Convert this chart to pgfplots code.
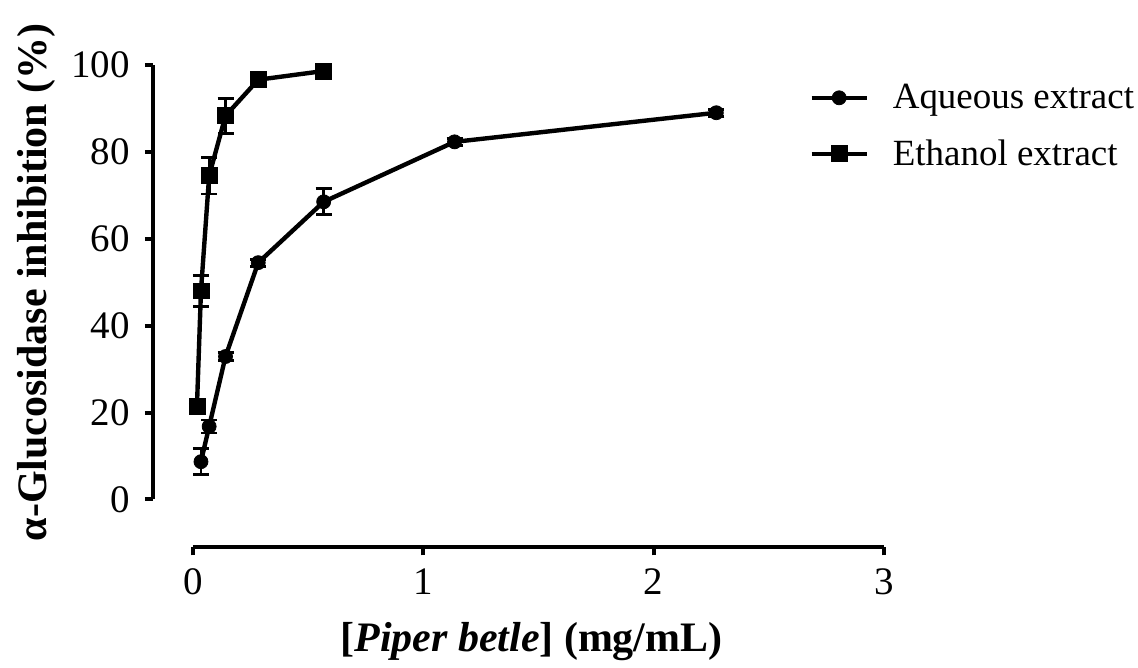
\documentclass[border=0pt]{standalone}
\usepackage{fontspec}
\setmainfont{Liberation Serif}
\usepackage{pgfplots}
\pgfplotsset{compat=1.18}
\usepackage{pgfplotstable}

% x = concentration (mg/mL), y = inhibition (%), e = error
\pgfplotstableread{
x      y     e
0.0355 8.7   3.0
0.071  16.8  1.5
0.142  32.9  1.0
0.284  54.5  0.8
0.568  68.5  3.0
1.136  82.3  0.8
2.272  89.0  0.8
}\aqueous
\pgfplotstableread{
x      y     e
0.018  21.4  0.5
0.0355 48.0  3.6
0.071  74.5  4.2
0.142  88.3  4.0
0.284  96.6  1.0
0.568  98.6  0.5
}\ethanol

\begin{document}
\begin{tikzpicture}
\path (0pt,0pt) rectangle (569pt,-332pt);

\begin{axis}[
  at={(76.5pt,-250pt)}, anchor=south west,
  scale only axis, width=366pt, height=217.5pt,
  xmin=-0.1734, xmax=3, ymin=0, ymax=100,
  axis x line=none, axis y line*=left,
  ytick={0,20,...,100},
  tick align=outside, major tick length=4pt,
  every tick/.style={line width=2pt, black},
  y axis line style={line width=2pt},
  /pgf/number format/assume math mode=true,
  tick label style={font=\fontsize{19.5}{19.5}\selectfont},
  yticklabel style={xshift=-4pt},
  every axis y label/.style={at={(axis description cs:-0.1448,0.5)}, rotate=90, anchor=base},
  ylabel={\fontsize{21}{21}\selectfont\bfseries α-Glucosidase inhibition (\%)},
  clip=false,
  legend style={draw=none, fill=none, at={(axis description cs:0.8975,0.966)},
    anchor=north west, font=\fontsize{18.5}{18.5}\selectfont,
    row sep=10pt, column sep=10pt, inner sep=0pt},
  legend cell align=left,
  legend image code/.code={\draw[#1, mark repeat=2, mark phase=2]
    plot coordinates {(0pt,0pt)(13.75pt,0pt)(27.5pt,0pt)};},
  error bars/error bar style={line width=1.4pt, black},
  error bars/error mark options={line width=1.4pt, mark size=4pt, black, rotate=90},
]
\addplot[black, line width=2.2pt, mark=*, mark size=3.5pt, mark options={line width=0.4pt},
  error bars/.cd, y dir=both, y explicit]
  table[x=x, y=y, y error=e] {\aqueous};
\addlegendentry{Aqueous extract}
\addplot[black, line width=2.2pt, mark=square*, mark size=4pt, mark options={line width=0.4pt},
  error bars/.cd, y dir=both, y explicit]
  table[x=x, y=y, y error=e] {\ethanol};
\addlegendentry{Ethanol extract}
\end{axis}

\begin{axis}[
  at={(96.5pt,-274pt)}, anchor=south west,
  scale only axis, width=346pt, height=20pt,
  xmin=0, xmax=3, ymin=0, ymax=1,
  axis y line=none, axis x line*=bottom,
  xtick={0,1,2,3},
  tick align=outside, major tick length=4pt,
  every tick/.style={line width=2pt, black},
  x axis line style={line width=2pt},
  /pgf/number format/assume math mode=true,
  tick label style={font=\fontsize{19.5}{19.5}\selectfont},
  xticklabel style={yshift=-3pt},
  every axis x label/.style={at={(axis description cs:0.49,-2.6)}, anchor=base},
  xlabel={\fontsize{21}{21}\selectfont\bfseries [\textit{Piper betle}] (mg/mL)},
]
\end{axis}
\end{tikzpicture}
\end{document}
